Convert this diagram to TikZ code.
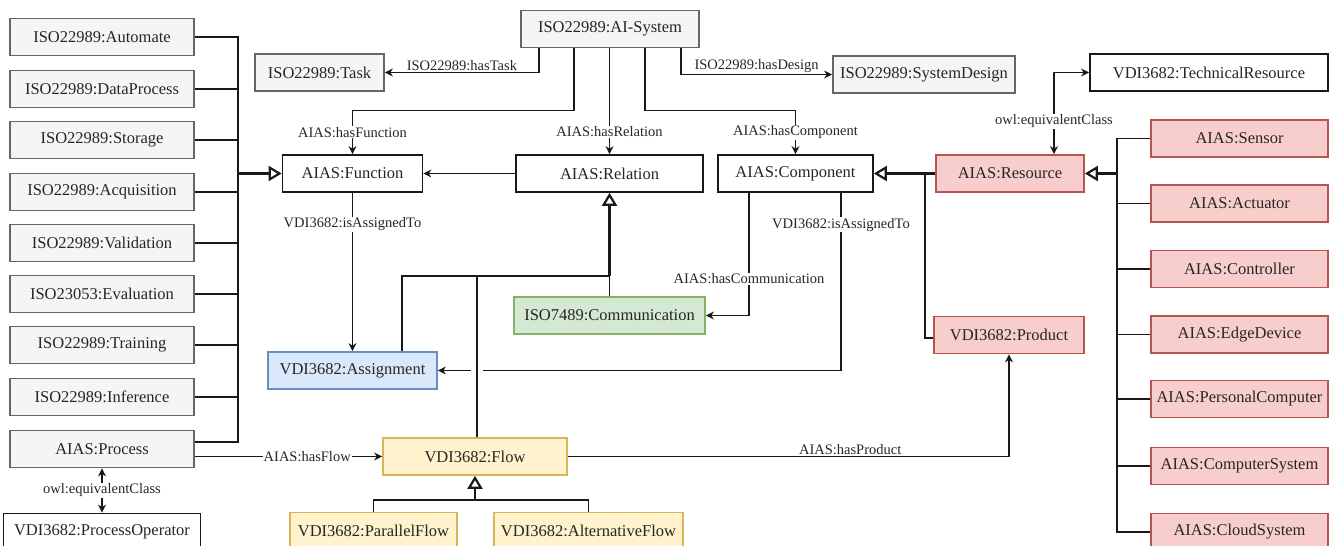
\documentclass[tikz,border=0pt]{standalone}
\usepackage{fontspec}
\setmainfont{Liberation Serif}
\usepackage{xcolor}
\usepackage{tikz}
\usetikzlibrary{arrows.meta}

\definecolor{isofill}{HTML}{F5F5F5}
\definecolor{isodraw}{HTML}{666666}
\definecolor{resfill}{HTML}{F8CECC}
\definecolor{resdraw}{HTML}{B85450}
\definecolor{asgfill}{HTML}{DAE8FC}
\definecolor{asgdraw}{HTML}{6C8EBF}
\definecolor{comfill}{HTML}{D5E8D4}
\definecolor{comdraw}{HTML}{82B366}
\definecolor{flowfill}{HTML}{FFF2CC}
\definecolor{flowdraw}{HTML}{D6B656}

\tikzset{
  cls/.style={draw=black!90, fill=white, line width=1.7pt, minimum height=37pt,
    inner sep=1pt, text=black!85, font=\fontsize{16.5}{19}\selectfont},
  isocls/.style={cls, draw=isodraw, fill=isofill},
  rescls/.style={cls, draw=resdraw, fill=resfill},
  asgcls/.style={cls, draw=asgdraw, fill=asgfill},
  comcls/.style={cls, draw=comdraw, fill=comfill},
  flowcls/.style={cls, draw=flowdraw, fill=flowfill},
  assoc/.style={line width=1.4pt, draw=black!90,
    -{Stealth[length=8pt,width=8pt,inset=2.5pt]}},
  equiv/.style={assoc,
    {Stealth[length=8pt,width=8pt,inset=2.5pt]}-{Stealth[length=8pt,width=8pt,inset=2.5pt]}},
  gen/.style={line width=2.2pt, draw=black!90,
    -{Triangle[open,length=13pt,width=15pt]}},
  bus/.style={line width=1.6pt, draw=black!90},
  lbl/.style={font=\fontsize{14.5}{17}\selectfont, text=black!85,
    fill=white, inner sep=1pt},
}

\begin{document}
\begin{tikzpicture}[x=1pt, y=-1pt]
  \useasboundingbox (0,0) rectangle (1334,546);

  % process classes on the left
  \foreach \n/\lab/\y in {
    auto/ISO22989:Automate/37,
    dproc/ISO22989:DataProcess/89,
    stor/ISO22989:Storage/140,
    acq/ISO22989:Acquisition/192,
    val/ISO22989:Validation/243,
    eval/ISO23053:Evaluation/294,
    train/ISO22989:Training/345,
    inf/ISO22989:Inference/397%
  } {
    \node[isocls, minimum width=184pt] (\n) at (102,\y) {\lab};
  }
  \node[isocls, minimum width=184pt] (proc) at (102,449) {AIAS:Process};
  \node[cls, minimum width=197pt] (procop) at (102,532) {VDI3682:ProcessOperator};

  % the system and its parts
  \node[isocls, minimum width=129pt] (task) at (319.5,72.5) {ISO22989:Task};
  \node[isocls, minimum width=178pt] (sys) at (610,29) {ISO22989:AI-System};
  \node[isocls, minimum width=182pt] (design) at (924,74.5) {ISO22989:SystemDesign};
  \node[cls, minimum width=238pt] (techres) at (1209,72.5) {VDI3682:TechnicalResource};
  \node[cls, minimum width=140pt] (func) at (352.5,173.5) {AIAS:Function};
  \node[cls, minimum width=187pt] (relation) at (609.5,173.5) {AIAS:Relation};
  \node[cls, minimum width=155pt] (comp) at (795.5,173.5) {AIAS:Component};
  \node[rescls, minimum width=148pt] (resource) at (1010,173.5) {AIAS:Resource};
  \node[comcls, minimum width=191pt] (comm) at (609.5,315.5) {ISO7489:Communication};
  \node[rescls, minimum width=150pt] (prod) at (1009,335) {VDI3682:Product};
  \node[asgcls, minimum width=169pt] (assign) at (352.5,370.5) {VDI3682:Assignment};
  \node[flowcls, minimum width=184pt] (flow) at (475,456.5) {VDI3682:Flow};
  \node[flowcls, minimum width=167pt] (par) at (373.5,531) {VDI3682:ParallelFlow};
  \node[flowcls, minimum width=189pt] (alt) at (588.5,531) {VDI3682:AlternativeFlow};

  % resource classes on the right
  \foreach \n/\lab/\y in {
    sens/AIAS:Sensor/138.5,
    act/AIAS:Actuator/203.5,
    ctrl/AIAS:Controller/269,
    edgedev/AIAS:EdgeDevice/334.5,
    pc/AIAS:PersonalComputer/399,
    csys/AIAS:ComputerSystem/466,
    cloud/AIAS:CloudSystem/532%
  } {
    \node[rescls, minimum width=177pt] (\n) at (1239.5,\y) {\lab};
  }

  % generalisation of the process classes
  \coordinate (fbus) at (238,173.5);
  \foreach \n in {auto,dproc,stor,acq,val,eval,train,inf} {
    \draw[bus] (\n.east) -| (fbus);
  }
  \draw[bus] ([yshift=7pt]proc.east) -| (fbus);
  \draw[gen] (fbus) -- (func.west);
  \draw[equiv] (proc.south) -- (procop.north) node[lbl, midway] {owl:equivalentClass};

  % properties of the system
  \draw[assoc] ([xshift=-71pt]sys.south) |- (task.east)
    node[lbl, pos=0.75, above, fill=none] {ISO22989:hasTask};
  \draw[assoc] ([xshift=-36pt]sys.south) -- ++(0,62) -| (func.north)
    node[lbl, pos=0.75] {AIAS:hasFunction};
  \draw[assoc] (sys.south -| relation.north) -- (relation.north)
    node[lbl, pos=0.79] {AIAS:hasRelation};
  \draw[assoc] ([xshift=35pt]sys.south) -- ++(0,62) -| (comp.north)
    node[lbl, pos=0.75] {AIAS:hasComponent};
  \draw[assoc] ([xshift=71pt]sys.south) |- (design.west)
    node[lbl, pos=0.75, above, fill=none] {ISO22989:hasDesign};

  % relations between the core classes
  \draw[assoc] (relation.west) -- (func.east);
  \draw[assoc] (func.south) -- (assign.north) node[lbl, pos=0.2] {VDI3682:isAssignedTo};
  \draw[assoc] ([xshift=-46.5pt]comp.south) |- (comm.east)
    node[lbl, pos=0.35] {AIAS:hasCommunication};
  \draw[assoc] ([xshift=45.5pt]comp.south) |- (assign.east)
    node[lbl, pos=0.09] {VDI3682:isAssignedTo};

  % line hop
  \fill[white] (471,365) rectangle (483,376);

  % generalisation of the relations
  \coordinate (relj) at (609.5,276);
  \draw[bus] (comm.north) -- (relj);
  \draw[bus] ([xshift=49.5pt]assign.north) |- (relj);
  \draw[bus] ([xshift=2pt]flow.north) |- (relj);
  \draw[gen] (relj) -- (relation.south);

  % resources
  \coordinate (rbus) at (1117,173.5);
  \foreach \n in {sens,act,ctrl,edgedev,pc,csys,cloud} {
    \draw[bus] (\n.west) -| (rbus);
  }
  \draw[gen] (rbus) -- (resource.east);
  \coordinate (cj) at (925,173.5);
  \draw[bus] ([yshift=-3pt]prod.west) -| (cj);
  \draw[gen] (resource.west) -- (comp.east);
  \draw[equiv] ([xshift=44pt]resource.north) |- (techres.west)
    node[lbl, pos=0.2] {owl:equivalentClass};

  % flows
  \draw[assoc] (proc.east |- flow.west) -- (flow.west) node[lbl, pos=0.6] {AIAS:hasFlow};
  \draw[assoc] (flow.east) -| (prod.south)
    node[lbl, pos=0.32, above, fill=none] {AIAS:hasProduct};
  \coordinate (flowj) at (475,500);
  \draw[bus] (par.north) |- (flowj);
  \draw[bus] (alt.north) |- (flowj);
  \draw[gen] (flowj) -- (flow.south);
\end{tikzpicture}
\end{document}
